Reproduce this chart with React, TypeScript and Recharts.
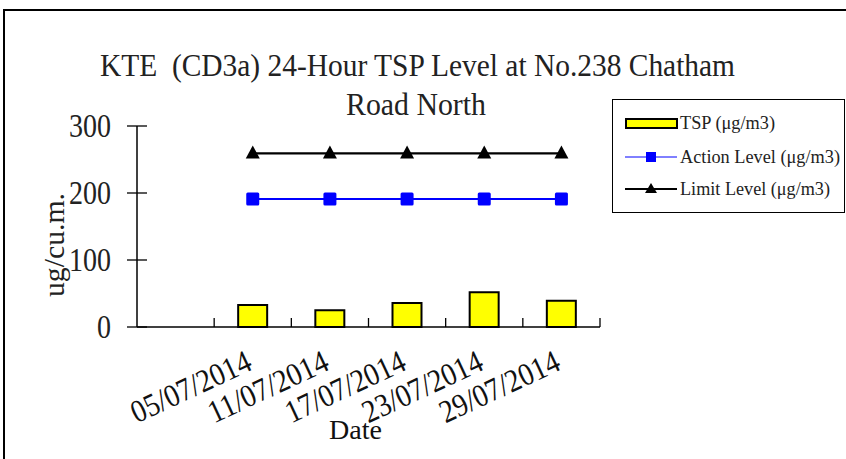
import React from 'react';
import { ComposedChart, Bar, Line, XAxis, YAxis, Legend } from 'recharts';

// ---- data ----
const dates = ['05/07/2014', '11/07/2014', '17/07/2014', '23/07/2014', '29/07/2014'];
const tspValues = [33, 25, 36, 52, 39];
const actionLevel = [191, 191, 191, 191, 191];
const limitLevel = [259, 259, 259, 259, 259];
const yTicks = [0, 100, 200, 300];
const titleLine1 = 'KTE  (CD3a) 24-Hour TSP Level at No.238 Chatham';
const titleLine2 = 'Road North';
const xTitle = 'Date';
const yTitle = 'ug/cu.m.';
const legendLabels = ['TSP (\u03bcg/m3)', 'Action Level (\u03bcg/m3)', 'Limit Level (\u03bcg/m3)'];

const data = dates.map((d, i) => ({
  date: d,
  tsp: tspValues[i],
  action: actionLevel[i],
  limit: limitLevel[i],
}));

// ---- layout ----
const W = 846;
const H = 459;
const PLOT_LEFT = 137;
const PLOT_RIGHT = 600;
const PLOT_TOP = 126;
const PLOT_BOTTOM = 327;
const BAND = (PLOT_RIGHT - PLOT_LEFT) / 6;
const X_AXIS_H = 60;
const FONT = '"Liberation Serif", "Times New Roman", serif';

const XTick = (props: any) => {
  const { x, y, payload, index } = props;
  const ax = x + 1;
  const ay = y + 42;
  const last = index === dates.length - 1;
  return (
    <g>
      <line x1={x - BAND / 2} x2={x - BAND / 2} y1={y} y2={y - 9} stroke="#000" strokeWidth={1.3} />
      {last && <line x1={x + BAND / 2} x2={x + BAND / 2} y1={y} y2={y - 9} stroke="#000" strokeWidth={1.3} />}
      <text
        x={ax}
        y={ay}
        textAnchor="end"
        transform={`rotate(-25 ${ax} ${ay})`}
        fontFamily={FONT}
        fontSize={32}
        fill="#111"
        textLength={129}
        lengthAdjust="spacingAndGlyphs"
      >
        {payload.value}
      </text>
    </g>
  );
};

const YTick = (props: any) => {
  const { x, y, payload } = props;
  const s = String(payload.value);
  return (
    <g>
      <line x1={x - 10} x2={x + 10} y1={y} y2={y} stroke="#000" strokeWidth={1.3} />
      <text
        x={x - 26}
        y={y + 11}
        textAnchor="end"
        fontFamily={FONT}
        fontSize={33}
        fill="#222"
        textLength={14 * s.length}
        lengthAdjust="spacingAndGlyphs"
      >
        {s}
      </text>
    </g>
  );
};

const SquareDot = (props: any) => {
  const { cx, cy, index } = props;
  if (cx == null || cy == null) return <g key={`s${index}`} />;
  return <rect key={`s${index}`} x={cx - 6.5} y={cy - 6.5} width={13} height={13} rx={1.5} fill="#0000FF" />;
};

const TriangleDot = (props: any) => {
  const { cx, cy, index } = props;
  if (cx == null || cy == null) return <g key={`t${index}`} />;
  return (
    <path
      key={`t${index}`}
      d={`M ${cx} ${cy - 8} L ${cx + 7} ${cy + 5} L ${cx - 7} ${cy + 5} Z`}
      fill="#000"
    />
  );
};

const LegendBox = () => (
  <svg width={234} height={115} style={{ display: 'block' }}>
    <rect x={0.5} y={0.5} width={232} height={113} fill="#fff" stroke="#000" strokeWidth={1} />
    <rect x={14} y={20} width={51} height={9} fill="#FFFF00" stroke="#000" strokeWidth={2} />
    <text x={68} y={30} fontFamily={FONT} fontSize={18} fill="#222" textLength={95} lengthAdjust="spacingAndGlyphs">
      {legendLabels[0]}
    </text>
    <line x1={13} x2={65} y1={58} y2={58} stroke="#0000FF" strokeWidth={1} />
    <rect x={34} y={53} width={10} height={10} fill="#0000FF" />
    <text x={68} y={64} fontFamily={FONT} fontSize={18} fill="#222" textLength={160} lengthAdjust="spacingAndGlyphs">
      {legendLabels[1]}
    </text>
    <line x1={13} x2={65} y1={90} y2={90} stroke="#000" strokeWidth={2} />
    <path d="M 39 84 L 45 94 L 33 94 Z" fill="#000" />
    <text x={68} y={96} fontFamily={FONT} fontSize={18} fill="#222" textLength={150} lengthAdjust="spacingAndGlyphs">
      {legendLabels[2]}
    </text>
  </svg>
);

export default function App() {
  return (
    <div style={{ position: 'absolute', left: 0, top: 0, width: W, height: H, background: '#fff' }}>
      <ComposedChart
        width={W}
        height={H}
        data={data}
        margin={{ top: PLOT_TOP, right: W - PLOT_RIGHT, left: 0, bottom: H - PLOT_BOTTOM - X_AXIS_H }}
      >
        <XAxis
          dataKey="date"
          type="category"
          padding={{ left: BAND, right: 0 }}
          height={X_AXIS_H}
          interval={0}
          axisLine={{ stroke: '#000', strokeWidth: 1.5 }}
          tickLine={false}
          tickSize={0}
          tickMargin={0}
          tick={<XTick />}
        />
        <YAxis
          width={PLOT_LEFT}
          domain={[0, 300]}
          ticks={yTicks}
          interval={0}
          axisLine={{ stroke: '#000', strokeWidth: 1.5 }}
          tickLine={false}
          tickSize={0}
          tickMargin={0}
          tick={<YTick />}
        />
        <Legend
          layout="vertical"
          align="center"
          verticalAlign="middle"
          wrapperStyle={{ left: 612, top: 99, width: 234, height: 115 }}
          content={() => <LegendBox />}
        />
        <Bar dataKey="tsp" barSize={29} fill="#FFFF00" stroke="#000" strokeWidth={2} isAnimationActive={false} />
        <Line
          dataKey="action"
          stroke="#0000FF"
          strokeWidth={2}
          dot={<SquareDot />}
          activeDot={false}
          isAnimationActive={false}
        />
        <Line
          dataKey="limit"
          stroke="#000"
          strokeWidth={2.2}
          dot={<TriangleDot />}
          activeDot={false}
          isAnimationActive={false}
        />
      </ComposedChart>
      <svg
        width={W}
        height={H}
        style={{ position: 'absolute', left: 0, top: 0, pointerEvents: 'none' }}
      >
        <path d={`M 4 ${H} V 10 H ${W}`} fill="none" stroke="#000" strokeWidth={2} />
        <text
          x={417.5}
          y={76}
          textAnchor="middle"
          fontFamily={FONT}
          fontSize={32}
          fill="#222"
          textLength={635}
          lengthAdjust="spacingAndGlyphs"
          style={{ whiteSpace: 'pre' }}
          xmlSpace="preserve"
        >
          {titleLine1}
        </text>
        <text x={416} y={115} textAnchor="middle" fontFamily={FONT} fontSize={32} fill="#222" textLength={140} lengthAdjust="spacingAndGlyphs">
          {titleLine2}
        </text>
        <text x={355.5} y={439} textAnchor="middle" fontFamily={FONT} fontSize={28} fill="#111" textLength={53} lengthAdjust="spacingAndGlyphs">
          {xTitle}
        </text>
        <text
          x={64}
          y={245}
          textAnchor="middle"
          transform="rotate(-90 64 245)"
          fontFamily={FONT}
          fontSize={29}
          fill="#222"
          textLength={104}
          lengthAdjust="spacingAndGlyphs"
        >
          {yTitle}
        </text>
      </svg>
    </div>
  );
}
